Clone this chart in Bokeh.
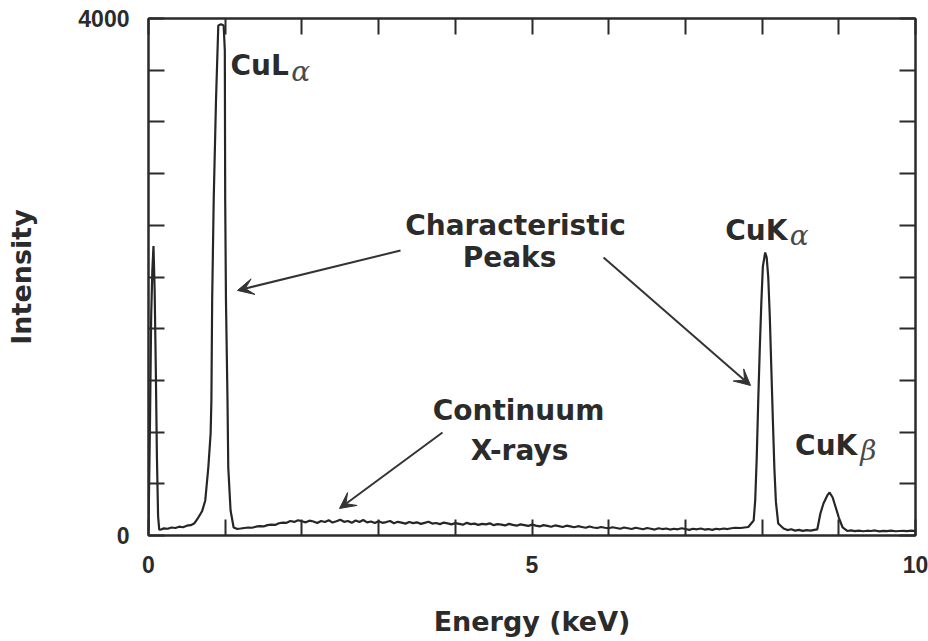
from bokeh.plotting import figure
from bokeh.models import Range1d, FixedTicker, LinearAxis, Arrow, VeeHead, ColumnDataSource
from bokeh.core.properties import value
from bokeh.embed import file_html
from bokeh.resources import INLINE

# ---------------- data ----------------
# energy (keV) and intensity (counts) of the spectrum trace
energy_low = [0.00, 0.02, 0.035, 0.05, 0.065, 0.08, 0.095, 0.11, 0.125, 0.14,
              0.17, 0.20, 0.25, 0.30, 0.35, 0.40, 0.45, 0.50, 0.55, 0.60]
counts_low = [40, 900, 1700, 2050, 2240, 1900, 1300, 600, 150, 45,
              48, 55, 52, 62, 58, 68, 64, 76, 80, 95]

energy_cula = [0.64, 0.70, 0.74, 0.78, 0.81, 0.82, 0.83, 0.85, 0.88, 0.91, 0.945,
               0.98, 0.995, 1.00, 1.01, 1.03, 1.04, 1.07, 1.11, 1.15, 1.20]
counts_cula = [130, 190, 271, 526, 789, 1044, 1818, 2592, 3366, 3946, 3955,
               3946, 3752, 2592, 1818, 1044, 526, 193, 62, 52, 54]

energy_cont = [1.25, 1.30, 1.35, 1.40, 1.45, 1.50, 1.55, 1.60, 1.65, 1.70,
               1.75, 1.80, 1.85, 1.90, 1.95, 2.00, 2.05, 2.10, 2.15, 2.20,
               2.25, 2.30, 2.35, 2.40, 2.45, 2.50, 2.55, 2.60, 2.65, 2.70,
               2.75, 2.80, 2.85, 2.90, 2.95, 3.00, 3.05, 3.10, 3.15, 3.20,
               3.25, 3.30, 3.35, 3.40, 3.45, 3.50, 3.55, 3.60, 3.65, 3.70,
               3.75, 3.80, 3.85, 3.90, 3.95, 4.00, 4.05, 4.10, 4.15, 4.20,
               4.25, 4.30, 4.35, 4.40, 4.45, 4.50, 4.55, 4.60, 4.65, 4.70,
               4.75, 4.80, 4.85, 4.90, 4.95, 5.00, 5.05, 5.10, 5.15, 5.20,
               5.25, 5.30, 5.35, 5.40, 5.45, 5.50, 5.55, 5.60, 5.65, 5.70,
               5.75, 5.80, 5.85, 5.90, 5.95, 6.00, 6.05, 6.10, 6.15, 6.20,
               6.25, 6.30, 6.35, 6.40, 6.45, 6.50, 6.55, 6.60, 6.65, 6.70,
               6.75, 6.80, 6.85, 6.90, 6.95, 7.00, 7.05, 7.10, 7.15, 7.20,
               7.25, 7.30, 7.35, 7.40, 7.45, 7.50, 7.55, 7.60, 7.65]
counts_cont = [58, 62, 60, 68, 72, 70, 80, 84, 82, 95,
               100, 98, 112, 105, 118, 110, 102, 115, 108, 96,
               112, 104, 118, 100, 110, 122, 106, 112, 98, 116,
               104, 120, 102, 108, 96, 110, 98, 104, 112, 95,
               106, 100, 92, 104, 96, 102, 90, 98, 106, 92,
               97, 88, 100, 94, 86, 96, 90, 84, 98, 88,
               92, 82, 90, 86, 94, 80, 88, 84, 78, 90,
               82, 76, 86, 80, 74, 84, 76, 70, 80, 74,
               68, 78, 72, 66, 76, 70, 64, 72, 66, 60,
               70, 62, 58, 66, 60, 56, 64, 58, 52, 62,
               56, 50, 60, 54, 48, 58, 52, 46, 56, 50,
               54, 46, 52, 48, 56, 50, 44, 52, 48, 54,
               46, 50, 44, 52, 48, 54, 50, 56, 60]

energy_cuka = [7.72, 7.82, 7.89, 7.91, 7.93, 7.95, 7.97, 7.99, 8.01, 8.04,
               8.06, 8.08, 8.10, 8.12, 8.14, 8.16, 8.18, 8.21, 8.28]
counts_cuka = [58, 66, 116, 271, 600, 1050, 1450, 1800, 2080, 2190,
               2150, 2000, 1700, 1300, 900, 520, 260, 93, 54]

energy_gap = [8.33, 8.38, 8.43, 8.48, 8.53, 8.58, 8.63, 8.68]
counts_gap = [42, 48, 38, 44, 36, 42, 38, 44]

energy_cukb = [8.72, 8.76, 8.80, 8.85, 8.88, 8.92, 8.96, 9.00, 9.05, 9.11]
counts_cukb = [48, 170, 248, 310, 333, 294, 217, 139, 62, 35]

energy_tail = [9.16, 9.21, 9.26, 9.32, 9.37, 9.42, 9.47, 9.53, 9.58, 9.63,
               9.68, 9.74, 9.79, 9.84, 9.89, 9.95, 10.00]
counts_tail = [40, 34, 38, 33, 37, 35, 39, 32, 36, 34, 38, 33, 35, 36, 34, 37, 35]

x_tick_values = [0, 1, 2, 3, 4, 5, 6, 7, 8, 9, 10]
x_tick_labels = {0: "0", 5: "5", 10: "10"}
y_tick_values = [0, 400, 800, 1200, 1600, 2000, 2400, 2800, 3200, 3600, 4000]
y_tick_labels = {0: "0", 4000: "4000"}

x_title = "Energy (keV)"
y_title = "Intensity"

peak_names = ["CuL", "CuK", "CuK"]
peak_greek = ["α", "α", "β"]
note_texts = ["Characteristic", "Peaks", "Continuum", "X-rays"]

# ---------------- layout / style ----------------
INK = "#2b2b2b"
energy = energy_low + energy_cula + energy_cont + energy_cuka + energy_gap + energy_cukb + energy_tail
counts = counts_low + counts_cula + counts_cont + counts_cuka + counts_gap + counts_cukb + counts_tail

p = figure(width=928, height=641, x_range=Range1d(0, 10), y_range=Range1d(0, 4000),
           output_backend="svg", toolbar_location=None,
           min_border_left=148, min_border_right=13, min_border_top=18, min_border_bottom=106)
p.background_fill_color = "white"
p.border_fill_color = "white"
p.xgrid.visible = False
p.ygrid.visible = False
p.outline_line_color = INK
p.outline_line_width = 2

def style_axis(ax, ticks, labels, show_labels):
    ax.ticker = FixedTicker(ticks=ticks)
    ax.major_tick_in = 16
    ax.major_tick_out = 0
    ax.minor_tick_line_color = None
    ax.major_tick_line_color = INK
    ax.major_tick_line_width = 2
    ax.axis_line_color = INK
    ax.axis_line_width = 2
    if show_labels:
        ax.major_label_overrides = {t: labels.get(t, "") for t in ticks}
        ax.major_label_text_font = "Liberation Sans"
        ax.major_label_text_font_style = "bold"
        ax.major_label_text_font_size = "23px"
        ax.major_label_text_color = INK
    else:
        ax.major_label_overrides = {t: "" for t in ticks}
        ax.major_label_text_font_size = "0px"
        ax.major_label_standoff = 0

xb = p.xaxis[0]
style_axis(xb, x_tick_values, x_tick_labels, True)
xb.major_label_standoff = 20
xb.axis_label = x_title
xb.axis_label_text_font = "DejaVu Sans"
xb.axis_label_text_font_style = "bold"
xb.axis_label_text_font_size = "27px"
xb.axis_label_text_color = INK
xb.axis_label_standoff = 30

yl = p.yaxis[0]
style_axis(yl, y_tick_values, y_tick_labels, True)
yl.major_label_standoff = 19
yl.major_label_orientation = "horizontal"
yl.axis_label = y_title
yl.axis_label_text_font = "DejaVu Sans"
yl.axis_label_text_font_style = "bold"
yl.axis_label_text_font_size = "27px"
yl.axis_label_text_color = INK
yl.axis_label_standoff = 38

xt = LinearAxis()
style_axis(xt, x_tick_values, x_tick_labels, False)
p.add_layout(xt, "above")
yr = LinearAxis()
style_axis(yr, y_tick_values, y_tick_labels, False)
p.add_layout(yr, "right")

p.line(energy, counts, line_color="#262626", line_width=2.2)

# peak labels
name_src = ColumnDataSource(dict(x=[1.07, 7.52, 8.43], y=[3636, 2360, 696], text=peak_names))
p.text("x", "y", text="text", source=name_src, text_font=value("DejaVu Sans"),
       text_font_style="bold", text_font_size="28px", text_color=INK,
       text_align="left", text_baseline="alphabetic")
greek_src = ColumnDataSource(dict(x=[1.86, 8.36, 9.28], y=[3590, 2320, 660], text=peak_greek))
p.text("x", "y", text="text", source=greek_src, text_font=value("DejaVu Serif"),
       text_font_style="italic", text_font_size="28px", text_color="#4a4a4a",
       text_align="left", text_baseline="alphabetic")

note_src = ColumnDataSource(dict(x=[4.785, 4.707, 4.824, 4.837], y=[2398, 2151, 967, 658], text=note_texts))
p.text("x", "y", text="text", source=note_src, text_font=value("DejaVu Sans"),
       text_font_style="bold", text_font_size="28px", text_color=INK,
       text_align="center", text_baseline="alphabetic")

# arrows
for (xs, ys, xe, ye) in [(3.286, 2205, 1.16, 1896), (5.933, 2151, 7.849, 1161), (3.833, 797, 2.49, 209)]:
    p.add_layout(Arrow(x_start=xs, y_start=ys, x_end=xe, y_end=ye,
                       line_color="#333333", line_width=2,
                       end=VeeHead(size=16, fill_color="#333333", line_color="#333333", line_width=1)))

open("out.html", "w").write(file_html(p, INLINE))
